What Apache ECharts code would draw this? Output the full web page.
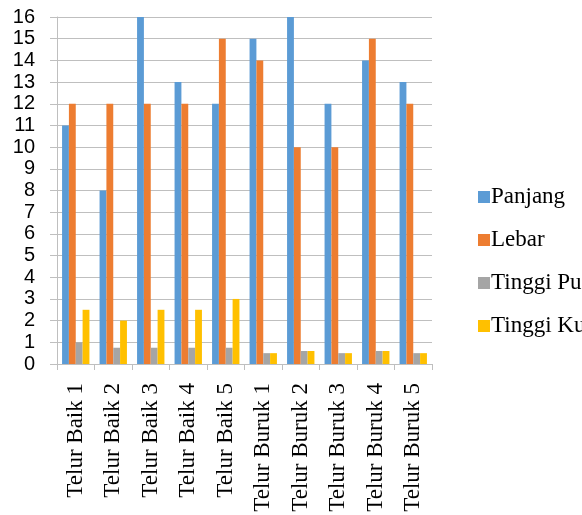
<!DOCTYPE html>
<html>
<head>
<meta charset="utf-8">
<style>
  html, body { margin: 0; padding: 0; background: #fff; }
  #chart { width: 582px; height: 515px; }
</style>
<script src="https://cdn.jsdelivr.net/npm/echarts@6/dist/echarts.min.js"></script>
</head>
<body>
<div id="chart"></div>
<script>
// Egg samples and their measurements
const categories = ['Telur Baik 1', 'Telur Baik 2', 'Telur Baik 3', 'Telur Baik 4', 'Telur Baik 5',
                    'Telur Buruk 1', 'Telur Buruk 2', 'Telur Buruk 3', 'Telur Buruk 4', 'Telur Buruk 5'];
const seriesNames = ['Panjang', 'Lebar', 'Tinggi Puncak', 'Tinggi Kutub'];
const panjang = [11, 8, 16, 13, 12, 15, 16, 12, 14, 13];
const lebar = [12, 12, 12, 12, 15, 14, 10, 10, 15, 12];
const tinggiPuncak = [1, 0.75, 0.75, 0.75, 0.75, 0.5, 0.6, 0.5, 0.6, 0.5];
const tinggiKutub = [2.5, 2, 2.5, 2.5, 3, 0.5, 0.6, 0.5, 0.6, 0.5];
const yMin = 0, yMax = 16, yStep = 1;

const colors = ['#5B9BD5', '#ED7D31', '#A5A5A5', '#FFC000'];
const values = [panjang, lebar, tinggiPuncak, tinggiKutub];
const axisGrey = '#BFBFBF';

const chart = echarts.init(document.getElementById('chart'), null, { renderer: 'canvas' });
chart.setOption({
  animation: false,
  color: colors,
  grid: { left: 57, right: 150, top: 17, bottom: 151, containLabel: false },
  legend: {
    orient: 'vertical',
    left: 473,
    top: 180,
    itemWidth: 12,
    itemHeight: 12,
    itemGap: 19,
    icon: 'rect',
    textStyle: { fontFamily: 'Liberation Serif', fontSize: 23, color: '#000', lineHeight: 24, padding: [0, 0, 0, -4] },
    data: seriesNames
  },
  xAxis: {
    type: 'category',
    data: categories,
    axisLine: { show: true, lineStyle: { color: axisGrey, width: 1 } },
    axisTick: { show: true, length: 6, lineStyle: { color: axisGrey } },
    axisLabel: {
      rotate: 90,
      margin: 19,
      interval: 0,
      fontFamily: 'Liberation Serif',
      fontSize: 23,
      color: '#000'
    }
  },
  yAxis: {
    type: 'value',
    min: yMin,
    max: yMax,
    interval: yStep,
    axisLine: { show: true, lineStyle: { color: axisGrey, width: 1 } },
    axisTick: { show: true, length: 7, lineStyle: { color: axisGrey } },
    splitLine: { show: true, lineStyle: { color: axisGrey, width: 1 } },
    axisLabel: { margin: 22, fontFamily: 'Liberation Sans', fontSize: 20, color: '#000' }
  },
  series: seriesNames.map((name, i) => ({
    name,
    type: 'bar',
    data: values[i],
    barGap: '0%',
    barCategoryGap: '27%',
    itemStyle: { color: colors[i] }
  }))
});
</script>
</body>
</html>
